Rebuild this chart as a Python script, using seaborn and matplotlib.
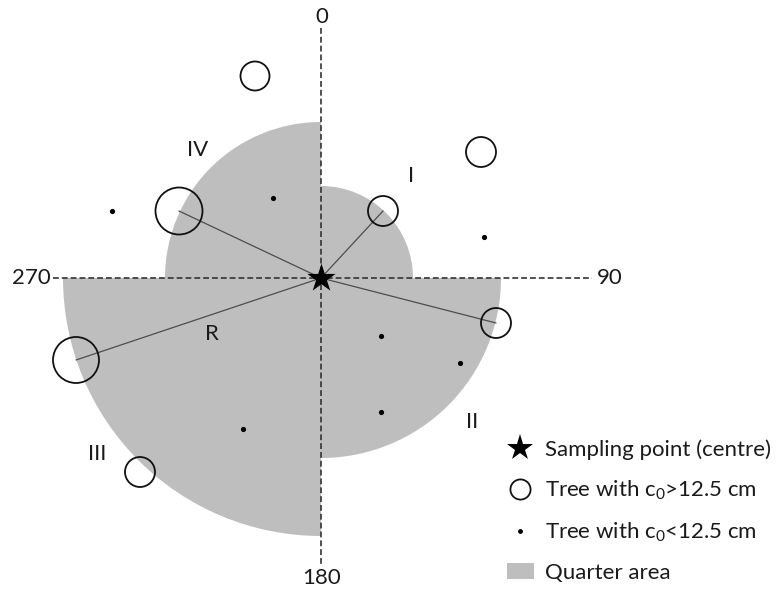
import matplotlib.pyplot as plt
from matplotlib.patches import Wedge, Patch
from matplotlib.lines import Line2D
import seaborn as sns
import pandas as pd
import numpy as np

DPI = 100

# all positions relative to the sampling point (centre), y pointing up
quarter_names = ["I", "II", "III", "IV"]
quarter_radius = [92, 180, 258, 156]
quarter_angles = [(0, 90), (270, 360), (180, 270), (90, 180)]

# trees with c0 > 12.5 cm (open circles) and their drawn radius
big_x = [-66, 160, 62, -142, 175, -245, -181]
big_y = [202, 126, 67, 67, -45, -82, -194]
big_r = [14.5, 15, 15, 23.5, 15, 23, 15]

# trees with c0 < 12.5 cm (dots)
small_x = [-209, -48, 163, 60, 139, 60, -78]
small_y = [67, 80, 41, -58, -85, -134, -151]

# nearest large tree in quarters I, II, III, IV
nearest = [2, 4, 5, 3]

legend_labels = ["Sampling point (centre)", "Tree with c$_0$>12.5 cm",
                 "Tree with c$_0$<12.5 cm", "Quarter area"]

sns.set_theme(style="white")
plt.rcParams['font.family'] = ['Lato', 'DejaVu Sans']
plt.rcParams['mathtext.default'] = 'regular'

GREY = "#bebebe"
TXT = "#1a1a1a"

fig = plt.figure(figsize=(7.82, 5.92), dpi=DPI)
ax = fig.add_axes([0, 0, 1, 1])
ax.set_xlim(-321, 461)
ax.set_ylim(-314, 278)
ax.axis("off")

for r, (a0, a1) in zip(quarter_radius, quarter_angles):
    ax.add_patch(Wedge((0, 0), r, a0, a1, facecolor=GREY, edgecolor="none", zorder=1))

# compass axes
dash = dict(color="#333333", lw=1.2, dashes=(3.5, 1.8), zorder=2)
ax.plot([-268, 271], [0, 0], **dash)
ax.plot([0, 0], [250, -287], **dash)

# radius to the nearest large tree of each quarter
for i in nearest:
    ax.plot([0, big_x[i]], [0, big_y[i]], color="#4d4d4d", lw=0.9, zorder=2)

df_big = pd.DataFrame({"x": big_x, "y": big_y, "r": big_r})
areas = {r: (2 * r * 72 / DPI) ** 2 for r in set(big_r)}
sns.scatterplot(data=df_big, x="x", y="y", size="r", sizes=areas,
                facecolor="none", edgecolor="#111111", linewidth=1.3,
                legend=False, ax=ax, zorder=3)

sns.scatterplot(x=small_x, y=small_y, color="black", s=14, linewidth=0,
                ax=ax, zorder=3)

sns.scatterplot(x=[0], y=[0], marker="*", color="black", s=460, linewidth=0,
                ax=ax, zorder=5)

# labels
fs = 16
ax.text(1, 261, "0", ha="center", va="center", fontsize=fs, color=TXT)
ax.text(1, -300, "180", ha="center", va="center", fontsize=fs, color=TXT)
ax.text(-290, 0, "270", ha="center", va="center", fontsize=fs, color=TXT)
ax.text(289, 0, "90", ha="center", va="center", fontsize=fs, color=TXT)
for name, (tx, ty) in zip(quarter_names, [(90, 102), (151, -144), (-224, -176), (-123, 128)]):
    ax.text(tx, ty, name, ha="center", va="center", fontsize=fs, color=TXT)
ax.text(-109, -56, "R", ha="center", va="center", fontsize=fs, color=TXT)

handles = [
    Line2D([], [], ls="none", marker="*", ms=20, color="black", mew=0),
    Line2D([], [], ls="none", marker="o", ms=14.5, mfc="none", mec="#111111", mew=1.3),
    Line2D([], [], ls="none", marker="o", ms=3.5, color="black", mew=0),
    Patch(facecolor=GREY, edgecolor="none"),
]
leg = ax.legend(handles, legend_labels, loc="upper left", frameon=False,
                bbox_to_anchor=(507 / 782, 1 - 439 / 592), bbox_transform=fig.transFigure,
                borderpad=0, borderaxespad=0, handlelength=1.2, handletextpad=0.5,
                labelspacing=0.85, fontsize=fs)
for t in leg.get_texts():
    t.set_color(TXT)

fig.savefig("out.png", dpi=DPI)
